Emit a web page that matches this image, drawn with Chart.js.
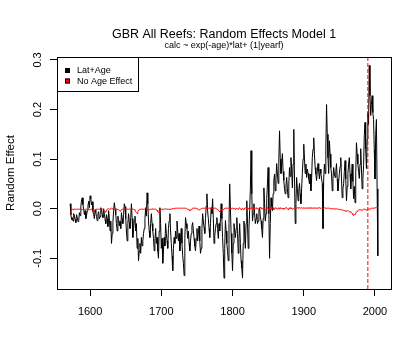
<!DOCTYPE html>
<html>
<head>
<meta charset="utf-8">
<title>GBR All Reefs: Random Effects Model 1</title>
<script src="https://cdn.jsdelivr.net/npm/chart.js@4.4.1/dist/chart.umd.min.js"></script>
<style>
	html, body { margin: 0; padding: 0; background: #fff; }
	#reefs { display: block; }
</style>
</head>
<body>
<canvas id="reefs" width="420" height="360"></canvas>
<script>

// --- data ---
var years = [
	1572, 1573, 1574, 1575, 1576, 1577, 1578, 1579, 1580, 1581,
	1582, 1583, 1584, 1585, 1586, 1587, 1588, 1589, 1590, 1591,
	1592, 1593, 1594, 1595, 1596, 1597, 1598, 1599, 1600, 1601,
	1602, 1603, 1604, 1605, 1606, 1607, 1608, 1609, 1610, 1611,
	1612, 1613, 1614, 1615, 1616, 1617, 1618, 1619, 1620, 1621,
	1622, 1623, 1624, 1625, 1626, 1627, 1628, 1629, 1630, 1631,
	1632, 1633, 1634, 1635, 1636, 1637, 1638, 1639, 1640, 1641,
	1642, 1643, 1644, 1645, 1646, 1647, 1648, 1649, 1650, 1651,
	1652, 1653, 1654, 1655, 1656, 1657, 1658, 1659, 1660, 1661,
	1662, 1663, 1664, 1665, 1666, 1667, 1668, 1669, 1670, 1671,
	1672, 1673, 1674, 1675, 1676, 1677, 1678, 1679, 1680, 1681,
	1682, 1683, 1684, 1685, 1686, 1687, 1688, 1689, 1690, 1691,
	1692, 1693, 1694, 1695, 1696, 1697, 1698, 1699, 1700, 1701,
	1702, 1703, 1704, 1705, 1706, 1707, 1708, 1709, 1710, 1711,
	1712, 1713, 1714, 1715, 1716, 1717, 1718, 1719, 1720, 1721,
	1722, 1723, 1724, 1725, 1726, 1727, 1728, 1729, 1730, 1731,
	1732, 1733, 1734, 1735, 1736, 1737, 1738, 1739, 1740, 1741,
	1742, 1743, 1744, 1745, 1746, 1747, 1748, 1749, 1750, 1751,
	1752, 1753, 1754, 1755, 1756, 1757, 1758, 1759, 1760, 1761,
	1762, 1763, 1764, 1765, 1766, 1767, 1768, 1769, 1770, 1771,
	1772, 1773, 1774, 1775, 1776, 1777, 1778, 1779, 1780, 1781,
	1782, 1783, 1784, 1785, 1786, 1787, 1788, 1789, 1790, 1791,
	1792, 1793, 1794, 1795, 1796, 1797, 1798, 1799, 1800, 1801,
	1802, 1803, 1804, 1805, 1806, 1807, 1808, 1809, 1810, 1811,
	1812, 1813, 1814, 1815, 1816, 1817, 1818, 1819, 1820, 1821,
	1822, 1823, 1824, 1825, 1826, 1827, 1828, 1829, 1830, 1831,
	1832, 1833, 1834, 1835, 1836, 1837, 1838, 1839, 1840, 1841,
	1842, 1843, 1844, 1845, 1846, 1847, 1848, 1849, 1850, 1851,
	1852, 1853, 1854, 1855, 1856, 1857, 1858, 1859, 1860, 1861,
	1862, 1863, 1864, 1865, 1866, 1867, 1868, 1869, 1870, 1871,
	1872, 1873, 1874, 1875, 1876, 1877, 1878, 1879, 1880, 1881,
	1882, 1883, 1884, 1885, 1886, 1887, 1888, 1889, 1890, 1891,
	1892, 1893, 1894, 1895, 1896, 1897, 1898, 1899, 1900, 1901,
	1902, 1903, 1904, 1905, 1906, 1907, 1908, 1909, 1910, 1911,
	1912, 1913, 1914, 1915, 1916, 1917, 1918, 1919, 1920, 1921,
	1922, 1923, 1924, 1925, 1926, 1927, 1928, 1929, 1930, 1931,
	1932, 1933, 1934, 1935, 1936, 1937, 1938, 1939, 1940, 1941,
	1942, 1943, 1944, 1945, 1946, 1947, 1948, 1949, 1950, 1951,
	1952, 1953, 1954, 1955, 1956, 1957, 1958, 1959, 1960, 1961,
	1962, 1963, 1964, 1965, 1966, 1967, 1968, 1969, 1970, 1971,
	1972, 1973, 1974, 1975, 1976, 1977, 1978, 1979, 1980, 1981,
	1982, 1983, 1984, 1985, 1986, 1987, 1988, 1989, 1990, 1991,
	1992, 1993, 1994, 1995, 1996, 1997, 1998, 1999, 2000, 2001,
	2002, 2003, 2004
];

// Lat+Age model
var latAge = [
	0.010, -0.012, -0.022, -0.018, -0.025, -0.010, -0.015, -0.022, -0.028, -0.012,
	-0.018, -0.026, -0.024, -0.008, -0.014, 0.004, 0.018, 0.022, 0.008, -0.002,
	-0.012, -0.004, -0.020, -0.014, -0.004, 0.006, 0.015, 0.002, 0.026, 0.020,
	0.008, 0.014, -0.006, -0.012, -0.020, -0.002, -0.008, -0.016, -0.024, -0.010,
	-0.006, -0.020, -0.016, 0.002, -0.002, -0.012, -0.018, 0.000, -0.010, -0.022,
	-0.030, -0.012, -0.020, -0.036, -0.004, -0.020, -0.045, -0.025, -0.070, -0.050,
	-0.028, -0.004, 0.012, 0.000, -0.012, -0.030, -0.045, -0.015, -0.022, -0.035,
	-0.025, -0.040, -0.008, -0.020, -0.030, -0.012, 0.010, 0.004, -0.020, -0.045,
	-0.065, -0.030, -0.010, -0.028, -0.040, -0.018, 0.010, -0.020, -0.058, -0.040,
	-0.025, -0.015, -0.045, -0.030, -0.080, -0.060, -0.105, -0.085, -0.070, -0.090,
	-0.058, -0.075, -0.065, -0.050, -0.040, -0.020, 0.002, -0.015, 0.032, 0.010,
	-0.025, -0.045, -0.058, -0.030, -0.010, -0.030, -0.045, -0.060, -0.085, -0.065,
	-0.040, -0.070, -0.058, -0.085, -0.100, -0.045, 0.002, -0.030, -0.080, -0.060,
	-0.110, -0.085, -0.058, -0.075, -0.030, -0.050, -0.065, -0.080, -0.040, -0.025,
	-0.010, -0.045, -0.070, -0.095, -0.125, -0.080, -0.058, -0.070, -0.045, -0.060,
	-0.025, -0.045, -0.065, -0.050, -0.085, -0.060, -0.040, -0.070, -0.095, -0.110,
	-0.135, -0.060, -0.018, -0.030, -0.040, -0.060, -0.045, -0.070, -0.085, -0.065,
	-0.050, -0.035, -0.028, -0.045, -0.060, -0.075, -0.085, -0.060, -0.040, -0.065,
	-0.050, -0.035, -0.065, -0.090, -0.080, -0.040, -0.010, -0.025, -0.038, -0.050,
	-0.020, 0.005, 0.030, -0.005, -0.020, -0.040, -0.058, -0.030, 0.002, -0.010,
	0.020, -0.020, -0.070, -0.055, -0.040, -0.030, -0.018, -0.040, -0.060, -0.030,
	-0.045, -0.020, 0.010, -0.020, -0.058, -0.090, -0.140, -0.080, -0.024, -0.045,
	-0.070, -0.085, -0.105, -0.030, 0.050, 0.000, -0.050, -0.090, -0.125, -0.070,
	-0.030, -0.045, -0.058, -0.040, -0.018, -0.050, -0.090, -0.060, -0.030, -0.070,
	-0.105, -0.120, -0.140, -0.070, -0.025, -0.050, -0.080, -0.030, 0.016, -0.030,
	-0.080, -0.040, -0.004, 0.040, 0.117, 0.030, -0.025, -0.010, 0.010, -0.010,
	-0.030, -0.020, -0.010, -0.030, -0.025, -0.005, 0.002, -0.015, -0.025, -0.040,
	-0.058, -0.020, 0.042, 0.010, -0.025, -0.010, 0.020, 0.050, 0.083, -0.010,
	-0.100, -0.030, 0.022, 0.005, -0.004, 0.030, 0.057, 0.070, 0.036, 0.060,
	0.091, 0.070, 0.051, 0.100, 0.157, 0.100, 0.071, 0.090, 0.111, 0.075,
	0.057, 0.040, 0.030, 0.045, 0.063, 0.040, 0.022, 0.050, 0.083, 0.065,
	0.103, 0.080, 0.042, 0.090, 0.160, 0.060, -0.030, 0.010, 0.063, 0.040,
	0.016, 0.035, 0.051, 0.030, 0.010, 0.040, 0.071, 0.100, 0.130, 0.100,
	0.071, 0.090, 0.063, 0.080, 0.071, 0.060, 0.050, 0.070, 0.036, 0.060,
	0.103, 0.120, 0.143, 0.110, 0.083, 0.070, 0.057, 0.075, 0.091, 0.075,
	0.060, 0.080, 0.071, 0.060, 0.051, -0.040, 0.060, 0.090, 0.071, 0.120,
	0.210, 0.150, 0.103, 0.071, 0.137, 0.110, 0.083, 0.070, 0.036, 0.060,
	0.083, 0.070, 0.063, 0.075, 0.091, 0.060, 0.036, 0.055, 0.071, 0.085,
	0.103, 0.060, 0.022, 0.040, 0.051, 0.075, 0.097, 0.060, 0.016, 0.045,
	0.071, 0.090, 0.103, 0.070, 0.040, 0.065, 0.090, 0.055, 0.020, 0.045,
	0.012, 0.070, 0.133, 0.110, 0.090, 0.075, 0.061, 0.090, 0.121, 0.080,
	0.040, 0.060, 0.087, 0.147, 0.174, 0.120, 0.081, 0.140, 0.194, 0.170,
	0.289, 0.228, 0.188, 0.210, 0.228, 0.194, 0.180, 0.120, 0.060, 0.150,
	0.180, 0.040, -0.095
];

// No Age Effect model
var noAge = [
	-0.008, -0.004, -0.002, -0.001, -0.001, -0.002, -0.001, -0.001, -0.001, -0.001,
	-0.001, -0.001, -0.001, -0.001, -0.001, -0.001, -0.001, -0.002, -0.001, -0.001,
	-0.002, -0.001, -0.001, -0.001, -0.001, -0.001, -0.001, -0.001, -0.002, -0.001,
	-0.001, -0.002, -0.004, -0.005, -0.006, -0.002, -0.001, -0.001, -0.001, -0.001,
	-0.001, -0.001, -0.001, -0.001, -0.001, -0.001, -0.001, -0.002, -0.004, -0.006,
	-0.007, -0.003, -0.001, -0.001, 0.000, -0.001, -0.001, 0.000, 0.001, 0.000,
	-0.001, -0.001, -0.001, -0.001, -0.001, -0.001, -0.001, -0.001, -0.002, -0.003,
	-0.005, -0.004, -0.002, -0.001, -0.001, -0.001, -0.001, -0.001, 0.000, -0.001,
	-0.001, -0.001, -0.001, -0.001, -0.001, -0.001, -0.001, -0.001, -0.001, -0.001,
	-0.002, -0.003, -0.006, -0.008, -0.010, -0.006, -0.003, -0.002, -0.001, -0.001,
	-0.001, -0.001, -0.001, -0.001, -0.001, -0.001, 0.000, -0.001, -0.001, -0.002,
	-0.003, -0.002, -0.001, -0.001, -0.001, -0.001, 0.000, -0.001, -0.001, -0.001,
	-0.001, -0.002, -0.003, -0.006, -0.008, -0.007, -0.006, -0.003, -0.001, -0.001,
	-0.001, -0.001, -0.001, -0.001, 0.000, -0.001, -0.001, -0.001, -0.001, -0.001,
	-0.002, -0.001, -0.001, 0.000, 0.000, 0.000, 0.000, 0.001, 0.001, 0.001,
	0.001, 0.001, 0.001, 0.001, 0.001, 0.001, 0.001, 0.001, 0.001, 0.001,
	0.001, 0.001, 0.001, 0.000, 0.000, -0.001, -0.001, -0.002, -0.004, -0.003,
	-0.002, 0.000, 0.001, 0.001, 0.001, 0.001, 0.001, 0.001, 0.000, -0.001,
	-0.002, -0.003, -0.003, -0.001, 0.000, 0.001, 0.001, 0.001, 0.001, 0.001,
	0.001, 0.001, 0.001, 0.001, 0.001, 0.001, 0.001, 0.001, 0.001, 0.001,
	0.000, 0.001, 0.001, 0.001, 0.001, 0.000, 0.000, -0.001, -0.003, -0.005,
	-0.006, -0.004, -0.002, -0.003, -0.004, -0.002, 0.000, 0.001, 0.001, 0.001,
	0.001, 0.001, 0.001, 0.001, 0.001, 0.000, 0.000, 0.001, 0.001, 0.000,
	0.000, 0.001, -0.002, 0.000, 0.001, 0.000, -0.001, 0.001, 0.002, 0.000,
	-0.002, 0.000, 0.001, -0.001, -0.002, 0.001, 0.002, 0.000, -0.001, 0.001,
	0.001, -0.001, -0.002, 0.001, 0.002, 0.001, 0.000, -0.001, -0.002, 0.001,
	0.001, 0.000, 0.002, 0.001, -0.001, 0.000, 0.001, 0.002, 0.002, 0.000,
	-0.001, 0.001, 0.000, -0.001, -0.002, 0.000, 0.001, 0.002, -0.001, 0.000,
	0.002, 0.001, -0.001, 0.000, 0.001, 0.002, -0.002, 0.000, 0.001, 0.002,
	0.000, -0.001, 0.001, 0.002, -0.001, 0.001, 0.002, 0.000, 0.000, 0.001,
	-0.001, 0.000, 0.001, 0.002, 0.002, 0.000, -0.002, 0.001, 0.001, 0.002,
	0.000, 0.001, -0.001, 0.000, 0.001, 0.002, 0.002, 0.001, 0.001, 0.002,
	0.001, 0.002, 0.002, 0.001, 0.001, 0.002, 0.001, 0.001, 0.002, 0.001,
	0.001, 0.002, 0.001, 0.001, 0.002, 0.001, 0.001, 0.002, 0.001, 0.001,
	0.001, 0.001, 0.002, 0.001, 0.001, 0.002, 0.001, 0.001, 0.001, 0.002,
	0.002, 0.001, 0.001, 0.001, 0.001, 0.001, 0.001, 0.002, 0.001, 0.001,
	0.001, 0.001, 0.001, 0.001, 0.001, 0.000, 0.000, 0.000, 0.000, 0.000,
	0.000, 0.000, -0.001, 0.000, 0.000, -0.001, -0.001, -0.001, -0.002, -0.002,
	-0.002, -0.002, -0.003, -0.003, -0.003, -0.004, -0.004, -0.005, -0.005, -0.004,
	-0.004, -0.005, -0.006, -0.006, -0.007, -0.008, -0.010, -0.012, -0.014, -0.013,
	-0.011, -0.009, -0.007, -0.005, -0.004, -0.003, -0.002, -0.002, -0.002, -0.003,
	-0.003, -0.002, -0.001, -0.001, -0.001, -0.002, -0.003, -0.002, -0.001, -0.001,
	-0.001, 0.000, 0.000, 0.001, 0.001, 0.001, 0.001, 0.001, 0.002, 0.002,
	0.002, 0.002, 0.003
];

var seriesNames = ["Lat+Age", "No Age Effect"];
var cutYear = [1990];
var xTicks = [1600, 1700, 1800, 1900, 2000];
var yTicks = [-0.1, 0.0, 0.1, 0.2, 0.3];
var yTickLabels = ["-0.1", "0.0", "0.1", "0.2", "0.3"];
var xRange = [1553.5, 2022.5];
var yRange = [-0.162, 0.306];
var chartTitle = "GBR All Reefs: Random Effects Model 1";
var chartSubtitle = "calc ~ exp(-age)*lat+ (1|yearf)";
var yTitle = "Random Effect";
// --- end data ---


var FONT = "'Liberation Sans', Arial, sans-serif";

function toPoints(vals) {
	return years.map(function(yr, i) { return { x: yr, y: vals[i] }; });
}


// --- R style frame, titles, y labels and legend ---
var rFrame = {
	id: 'rFrame',
	afterDraw: function(chart) {
		var ctx = chart.ctx;
		var a = chart.chartArea;
		var ys = chart.scales.y;
		var cx = (a.left + a.right) / 2;

		ctx.save();
		ctx.strokeStyle = '#000';
		ctx.lineWidth = 1;
		ctx.strokeRect(Math.round(a.left) + 0.5, Math.round(a.top) + 0.5,
			Math.round(a.right - a.left), Math.round(a.bottom - a.top));

		ctx.fillStyle = '#000';
		ctx.textAlign = 'center';
		ctx.textBaseline = 'middle';
		ctx.font = '12.5px ' + FONT;
		ctx.fillText(chartTitle, cx, 35);
		ctx.font = '9px ' + FONT;
		ctx.fillText(chartSubtitle, cx, 46);

		// y tick labels, rotated like R's default
		ctx.font = '11px ' + FONT;
		yTicks.forEach(function(v, i) {
			ctx.save();
			ctx.translate(38, ys.getPixelForValue(v));
			ctx.rotate(-Math.PI / 2);
			ctx.fillText(yTickLabels[i], 0, 0);
			ctx.restore();
		});

		ctx.save();
		ctx.translate(11, (a.top + a.bottom) / 2);
		ctx.rotate(-Math.PI / 2);
		ctx.font = '11.5px ' + FONT;
		ctx.fillText(yTitle, 0, 0);
		ctx.restore();

		// legend box top-left inside the plot
		var lx = Math.round(a.left), ly = Math.round(a.top);
		ctx.fillStyle = '#fff';
		ctx.fillRect(lx + 1, ly + 1, 80, 33);
		ctx.strokeRect(lx + 0.5, ly + 0.5, 81, 34);
		ctx.font = '9px ' + FONT;
		ctx.textAlign = 'left';
		var swatch = ['#000', '#ff0000'];
		seriesNames.forEach(function(name, i) {
			var ry = ly + 14 + i * 10.5;
			ctx.fillStyle = swatch[i];
			ctx.fillRect(lx + 8, ry - 3, 5, 5);
			ctx.strokeStyle = '#000';
			ctx.strokeRect(lx + 8.5, ry - 2.5, 4, 4);
			ctx.fillStyle = '#000';
			ctx.fillText(name, lx + 20, ry);
		});
		ctx.restore();
	}
};


var rc = document.getElementById('reefs').getContext('2d');

var reefChart = new Chart(rc, {
	type: 'line',
	data: {
		datasets: [{
			data: [{ x: cutYear[0], y: yRange[0] }, { x: cutYear[0], y: yRange[1] }],
			borderColor: '#ff0000',
			borderWidth: 1,
			borderDash: [4, 2],
			pointRadius: 0
		}, {
			label: seriesNames[1],
			data: toPoints(noAge),
			borderColor: '#ff0000',
			borderWidth: 1,
			pointRadius: 0,
			tension: 0
		}, {
			label: seriesNames[0],
			data: toPoints(latAge),
			borderColor: '#000000',
			borderWidth: 1,
			pointRadius: 0,
			tension: 0
		}]
	},
	options: {
		responsive: false,
		animation: false,
		devicePixelRatio: 1,
		layout: { padding: { top: 57, right: 29, left: 0, bottom: 0 } },
		plugins: {
			legend: { display: false },
			tooltip: { enabled: false }
		},
		scales: {
			x: {
				type: 'linear',
				min: xRange[0],
				max: xRange[1],
				afterBuildTicks: function(s) { s.ticks = xTicks.map(function(v) { return { value: v }; }); },
				afterFit: function(s) { s.height = 71; },
				grid: { drawOnChartArea: false, drawTicks: true, tickLength: 7, color: '#000', tickColor: '#000' },
				border: { display: false },
				ticks: {
					color: '#000',
					font: { family: FONT, size: 11 },
					padding: 9,
					maxRotation: 0,
					callback: function(v) { return String(v); }
				}
			},
			y: {
				type: 'linear',
				min: yRange[0],
				max: yRange[1],
				afterBuildTicks: function(s) { s.ticks = yTicks.map(function(v) { return { value: v }; }); },
				afterFit: function(s) { s.width = 57; },
				grid: { drawOnChartArea: false, drawTicks: true, tickLength: 7, color: '#000', tickColor: '#000' },
				border: { display: false },
				ticks: { display: false }
			}
		}
	},
	plugins: [rFrame]
});

</script>
</body>
</html>
